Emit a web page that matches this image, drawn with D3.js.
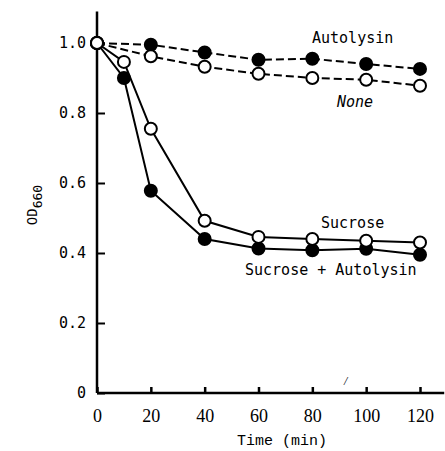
<!DOCTYPE html>
<html>
<head>
<meta charset="utf-8">
<script src="https://cdn.jsdelivr.net/npm/d3@7"></script>
<style>
  body { margin: 0; background: #fff; }
  svg { display: block; }
</style>
</head>
<body>
<div id="chart"></div>
<script>
// time points (min)
const times = [0, 10, 20, 40, 60, 80, 100, 120];
const timesDashed = [0, 20, 40, 60, 80, 100, 120];

// OD660 readings
const autolysin = [1.0, 0.995, 0.973, 0.952, 0.955, 0.94, 0.926];
const none = [1.0, 0.962, 0.932, 0.912, 0.9, 0.895, 0.878];
const sucrose = [1.0, 0.946, 0.755, 0.492, 0.446, 0.44, 0.435, 0.43];
const sucroseAutolysin = [1.0, 0.9, 0.578, 0.44, 0.413, 0.408, 0.412, 0.395];

const xTicks = [0, 20, 40, 60, 80, 100, 120];
const yTicks = [0, 0.2, 0.4, 0.6, 0.8, 1.0];

const width = 445, height = 451;

const svg = d3.select("#chart").append("svg")
    .attr("width", width)
    .attr("height", height);

const x = d3.scaleLinear().domain([0, 120]).range([97, 420]);
const y = d3.scaleLinear().domain([0, 1]).range([393, 43]);

const mono = "'DejaVu Sans Mono', monospace";

// x axis
const xAxis = svg.append("g")
    .attr("transform", "translate(0," + y(0) + ")")
    .call(d3.axisBottom(x).tickValues(xTicks).tickSizeInner(-6).tickSizeOuter(0).tickPadding(16));
xAxis.select(".domain").remove();
xAxis.selectAll(".tick line").attr("stroke-width", 2.5);
xAxis.selectAll("text")
    .attr("font-family", "'Liberation Serif', serif")
    .attr("font-size", 18)
    .attr("fill", "#000");
xAxis.append("line")
    .attr("x1", x(0)).attr("x2", x(129))
    .attr("stroke", "#000").attr("stroke-width", 2.5);

// y axis
const yAxis = svg.append("g")
    .attr("transform", "translate(" + x(0) + ",0)")
    .call(d3.axisLeft(y).tickValues(yTicks).tickSizeInner(-8).tickSizeOuter(0).tickPadding(11)
        .tickFormat(d => d === 0 ? "0" : d3.format(".1f")(d)));
yAxis.select(".domain").remove();
yAxis.selectAll(".tick line").attr("stroke-width", 2);
yAxis.selectAll("text")
    .attr("font-family", mono)
    .attr("font-size", 15)
    .attr("fill", "#000");
yAxis.append("line")
    .attr("y1", y(0)).attr("y2", y(1.09))
    .attr("stroke", "#000").attr("stroke-width", 2.5);

// series (filled ones first so the open circles sit on top at t=0)
const series = [
  { t: timesDashed, v: autolysin, filled: true, dashed: true },
  { t: times, v: sucroseAutolysin, filled: true, dashed: false },
  { t: timesDashed, v: none, filled: false, dashed: true },
  { t: times, v: sucrose, filled: false, dashed: false }
];

const line = d3.line().x(d => x(d[0])).y(d => y(d[1]));

series.forEach(s => {
  const pts = s.t.map((t, i) => [t, s.v[i]]);
  svg.append("path")
      .datum(pts)
      .attr("d", line)
      .attr("fill", "none")
      .attr("stroke", "#000")
      .attr("stroke-width", 2)
      .attr("stroke-dasharray", s.dashed ? "8,4" : null);
});

series.forEach(s => {
  const pts = s.t.map((t, i) => [t, s.v[i]]);
  svg.selectAll(null)
      .data(pts)
      .enter()
      .append("circle")
      .attr("cx", d => x(d[0]))
      .attr("cy", d => y(d[1]))
      .attr("r", 6)
      .attr("fill", s.filled ? "#000" : "#fff")
      .attr("stroke", "#000")
      .attr("stroke-width", 2);
});

// series labels
function label(txt, lx, ly, italic) {
  svg.append("text")
      .attr("x", lx).attr("y", ly)
      .attr("font-family", mono)
      .attr("font-size", 15)
      .attr("font-style", italic ? "italic" : null)
      .attr("fill", "#000")
      .text(txt);
}
label("Autolysin", 312, 43);
label("None", 337, 107, true);
label("Sucrose", 321, 228);
label("Sucrose + Autolysin", 245, 275);

// axis titles
svg.append("text")
    .attr("x", 282).attr("y", 445)
    .attr("text-anchor", "middle")
    .attr("font-family", "'Liberation Mono', monospace")
    .attr("font-size", 15)
    .text("Time (min)");

const yl = svg.append("text")
    .attr("transform", "translate(37,205) rotate(-90)")
    .attr("text-anchor", "middle")
    .attr("font-family", mono)
    .attr("font-size", 14);
yl.append("tspan").text("OD");
yl.append("tspan").attr("dy", 5).attr("font-size", 13).text("660");

// stray mark near the x axis
svg.append("text")
    .attr("x", 344).attr("y", 385)
    .attr("font-family", "'Liberation Serif', serif")
    .attr("font-size", 12)
    .attr("font-style", "italic")
    .text("/");
</script>
</body>
</html>
